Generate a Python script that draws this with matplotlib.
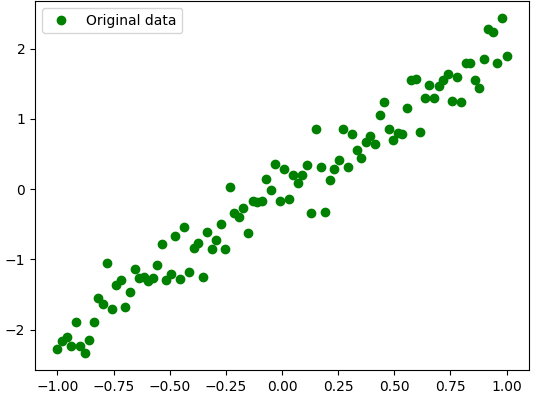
import numpy as np
import matplotlib
matplotlib.use("Agg")
import matplotlib.pyplot as plt

# 100 evenly spaced samples on [-1, 1]
x_values = np.linspace(-1, 1, 100)

# y values
y_values = [
    -2.277, -2.163, -2.107, -2.234, -1.893, -2.234, -2.334, -2.149, -1.893, -1.553,
    -1.638, -1.055, -1.709, -1.368, -1.297, -1.680, -1.467, -1.141, -1.268, -1.254,
    -1.311, -1.268, -1.084, -0.786, -1.297, -1.212, -0.672, -1.283, -0.544, -1.183,
    -0.842, -0.771, -1.254, -0.615, -0.857, -0.729, -0.501, -0.857, 0.038, -0.345,
    -0.395, -0.274, -0.629, -0.161, -0.189, -0.175, 0.152, -0.018, 0.365, -0.161,
    0.294, -0.146, 0.209, 0.081, 0.195, 0.351, -0.345, 0.862, 0.322, -0.331,
    0.124, 0.294, 0.422, 0.862, 0.322, 0.791, 0.564, 0.450, 0.678, 0.763,
    0.649, 1.061, 1.246, 0.862, 0.706, 0.805, 0.791, 1.161, 1.558, 1.572,
    0.820, 1.303, 1.487, 1.303, 1.473, 1.558, 1.643, 1.260, 1.601, 1.246,
    1.800, 1.800, 1.558, 1.445, 1.857, 2.283, 2.240, 1.800, 2.439, 1.899,
]

fig = plt.figure(figsize=(5.47, 4.13), dpi=100)
ax = fig.add_axes([35 / 547, 43 / 413, 494 / 547, 369 / 413])

ax.plot(x_values, y_values, "go", label="Original data")
ax.legend(loc="upper left")

fig.savefig("out.png", dpi=100)
plt.close(fig)
